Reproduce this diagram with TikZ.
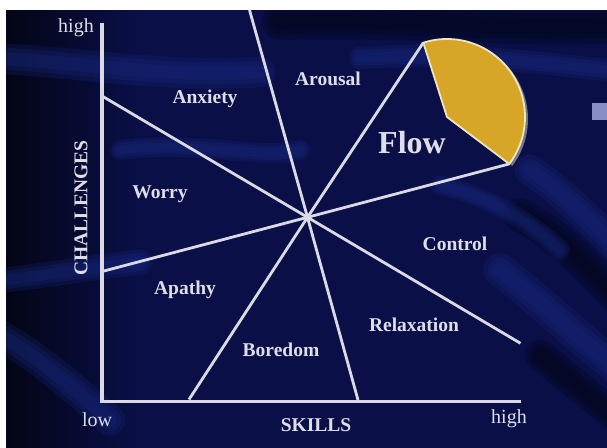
\documentclass[tikz,border=0pt]{standalone}
\usepackage{fontspec}
\setmainfont{Liberation Serif}
\definecolor{bgnavy}{RGB}{10,15,72}
\definecolor{bgdark}{RGB}{3,5,22}
\definecolor{bandblue}{RGB}{26,44,135}
\definecolor{linecol}{RGB}{218,218,228}
\definecolor{txtcol}{RGB}{222,222,232}
\definecolor{flowgold}{RGB}{216,166,38}
\definecolor{flowrim}{RGB}{236,230,200}
\definecolor{shadowgray}{RGB}{120,120,130}
\definecolor{tabcol}{RGB}{140,140,200}
\tikzset{
  ray/.style={draw=linecol, line width=2.8pt},
  axisline/.style={draw=linecol, line width=3.4pt},
  lab/.style={text=txtcol, font=\bfseries\fontsize{19.5}{19.5}\selectfont, inner sep=0pt},
  axlab/.style={text=txtcol, font=\fontsize{20}{20}\selectfont, inner sep=0pt},
  band/.style={draw=bandblue, line cap=round, opacity=0.22},
  darkband/.style={draw=bgdark, line cap=round, opacity=0.3}
}
\newcommand\softband[3]{%
  \foreach \bw in {1.4,1.0,0.6}{\draw[#1, line width=\bw*#2] #3;}}
\begin{document}
\begin{tikzpicture}[x=1pt,y=-1pt]
\useasboundingbox (0,0) rectangle (607,447);
\fill[white] (0,0) rectangle (607,447);
\begin{scope}
\clip (6,10) rectangle (615,455);
\fill[bgnavy] (6,10) rectangle (615,455);
\shade[left color=bgdark, right color=bgnavy] (6,10) rectangle (140,455);
% background bands
\softband{band}{22pt}{(-10,58) .. controls (80,62) and (160,78) .. (260,72)}
\softband{darkband}{26pt}{(280,22) .. controls (400,18) and (500,30) .. (620,25)}
\softband{band}{16pt}{(360,58) .. controls (450,52) and (540,62) .. (620,72)}
\softband{band}{18pt}{(-10,282) .. controls (40,276) and (90,268) .. (140,262)}
\softband{band}{22pt}{(-10,330) .. controls (30,350) and (70,385) .. (110,420)}
\softband{band}{14pt}{(120,150) .. controls (200,140) and (260,160) .. (300,150)}
\softband{band}{22pt}{(530,170) .. controls (560,190) and (590,220) .. (620,250)}
\softband{darkband}{24pt}{(520,215) .. controls (560,235) and (590,270) .. (620,300)}
\softband{band}{24pt}{(500,270) .. controls (540,300) and (580,340) .. (620,370)}
\softband{darkband}{22pt}{(540,355) .. controls (570,380) and (595,400) .. (620,420)}
\softband{band}{14pt}{(440,185) .. controls (500,200) and (540,230) .. (560,250)}
\end{scope}
% small tab at right edge
\fill[tabcol] (592,103) rectangle (607,120);
% axes
\coordinate (ytop) at (102,23);
\coordinate (orig) at (102,401.5);
\coordinate (xend) at (521,401.5);
\draw[axisline] (ytop) -- (orig) -- (xend);
% rays from the centre
\coordinate (O) at (307.5,217.3);
\coordinate (rtop) at (249.5,10);
\coordinate (rul) at (102,96);
\coordinate (rll) at (102,271.5);
\coordinate (rbl) at (189,399.5);
\coordinate (rb) at (358,400);
\coordinate (rlr) at (520.5,343.3);
\coordinate (rr) at (509.3,163.9);
\coordinate (rur) at (423.3,42.7);
\coordinate (fc) at (447,117);
% flow wedge
\fill[shadowgray] ([shift={(3,2)}]fc) -- ++(-107.7:78) arc[start angle=-107.7, end angle=37, radius=78] -- cycle;
\filldraw[fill=flowgold, draw=flowrim, line width=1.8pt, line join=round] (fc) -- (rur) arc[start angle=-107.7, end angle=37, radius=78] -- cycle;
\foreach \e in {rtop,rul,rll,rbl,rb,rlr,rr,rur} \draw[ray] (O) -- (\e);
% labels
\node[lab] (anx) at (205,99) {Anxiety};
\node[lab] (aro) at (328,79) {Arousal};
\node[lab, font=\bfseries\fontsize{32}{32}\selectfont] (flow) at (412,143) {Flow};
\node[lab] (wor) at (160,194) {Worry};
\node[lab] (con) at (455,244) {Control};
\node[lab] (apa) at (185,290) {Apathy};
\node[lab] (rel) at (414,325) {Relaxation};
\node[lab] (bor) at (281,350) {Boredom};
\node[lab] (skills) at (316,425) {SKILLS};
\node[lab, rotate=90] (chal) at (81,208) {CHALLENGES};
\node[axlab] (low) at (97,420) {low};
\node[axlab] (hix) at (509,419) {high};
\node[axlab] (hiy) at (76,28) {high};
\end{tikzpicture}
\end{document}
